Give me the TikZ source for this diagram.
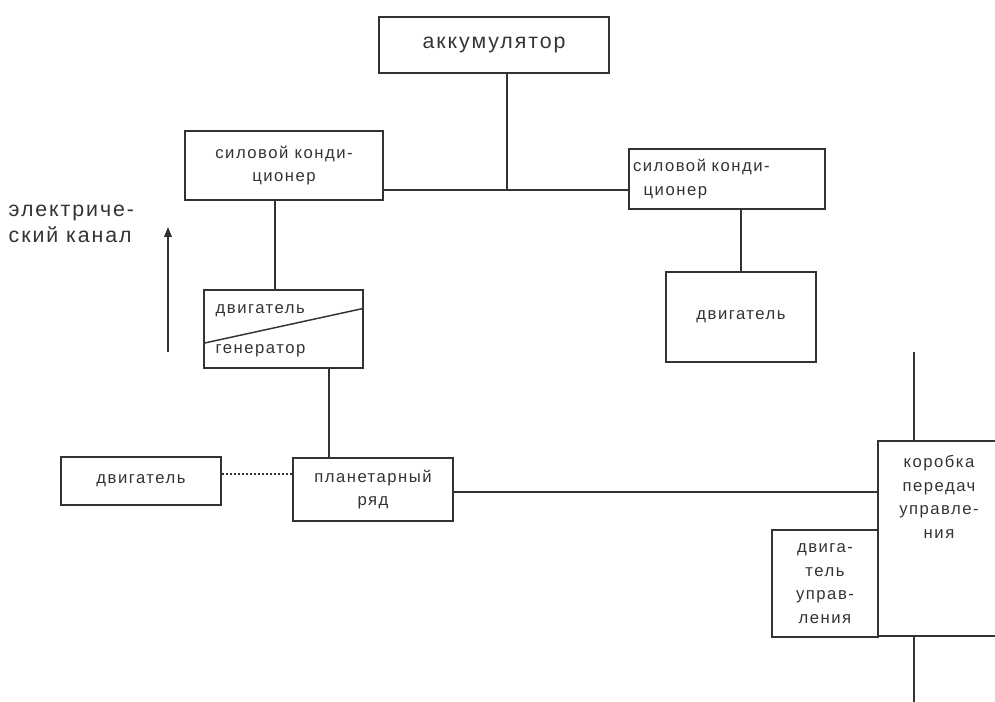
\documentclass[tikz,border=0pt]{standalone}
\usepackage{fontspec}
\setmainfont[LetterSpace=9]{Liberation Sans}
\usetikzlibrary{arrows.meta, calc}

\begin{document}
\begin{tikzpicture}[
    x=0.75pt, y=-0.75pt,
    line width=1.1pt, draw=black!80,
    box/.style={rectangle, draw=black!80, line width=1.1pt, inner sep=0pt, align=center,
        font=\fontsize{12.5}{17.6}\selectfont, text=black!80},
    big/.style={font=\fontsize{16}{19.5}\selectfont, text=black!80},
    lbl/.style={inner sep=0pt, font=\fontsize{12.5}{17.6}\selectfont, text=black!80},
    arrow/.style={-{Triangle[length=2.6mm, width=2mm]}, line width=1.1pt}
]
\useasboundingbox (0,0) rectangle (995,702);

\node[box, big, minimum width=172.5pt, minimum height=42pt] (akk) at (494,45) {аккумулятор};
\node[box, minimum width=148.5pt, minimum height=51.75pt] (lcond) at (284,165.5) {силовой конди-\\ционер};
\node[box, minimum width=147pt, minimum height=45pt, text width=141pt, align=left] (rcond) at (727,179) {силовой конди-\\\hspace*{8pt}ционер};
\node[box, minimum width=119.25pt, minimum height=58.5pt] (mg) at (283.5,329) {};
\node[lbl, anchor=west] (mgtop) at (215,311) {двигатель};
\node[lbl, anchor=west] (mgbot) at (215,351) {генератор};
\node[box, minimum width=112.5pt, minimum height=67.5pt] (rmot) at (741,317) {двигатель};
\node[box, minimum width=120pt, minimum height=36pt] (lmot) at (141,481) {двигатель};
\node[box, minimum width=120pt, minimum height=47.25pt] (plan) at (373,489.5) {планетарный\\ряд};
\node[box, minimum width=88.5pt, minimum height=146.25pt] (kpp) at (937,538.5) {};
\node[lbl, align=center] (kpptxt) at (939,497) {коробка\\передач\\управле-\\ния};
\node[box, minimum width=79.5pt, minimum height=80.25pt] (mu) at (825,583.5) {двига-\\тель\\управ-\\ления};
\node[big, anchor=north west, inner sep=0pt, align=left] (chan) at (8,204) {электриче-\\ский канал};

% connectors
\coordinate (jn) at (507,190);
\coordinate (chanbot) at (168,352);
\coordinate (chantop) at (168,227);
\coordinate (shafttop) at (914,352);
\coordinate (shaftbot) at (914,702);
\draw (akk.south -| jn) -- (jn);
\draw (lcond.east |- jn) -- (rcond.west |- jn);
\draw ($(lcond.south)+(-9,0)$) -- ($(mg.north)+(-8.5,0)$);
\draw (rmot.north) -- (rmot.north |- rcond.south);
\draw ($(mg.south)+(45.5,0)$) -- ($(plan.north)+(-44,0)$);
\draw[dashed, dash pattern=on 2pt off 1pt] ($(lmot.east)+(0,-7)$) -- ($(plan.west)+(0,-15.5)$);
\draw ($(plan.east)+(0,2.5)$) -- (kpp.west |- {$(plan.east)+(0,2.5)$});
\draw (shafttop) -- (kpp.north -| shafttop);
\draw (kpp.south -| shaftbot) -- (shaftbot);
\draw ($(mg.south west)!0.32!(mg.north west)$) -- ($(mg.north east)!0.24!(mg.south east)$);
\draw[arrow] (chanbot) -- (chantop);
\end{tikzpicture}
\end{document}
